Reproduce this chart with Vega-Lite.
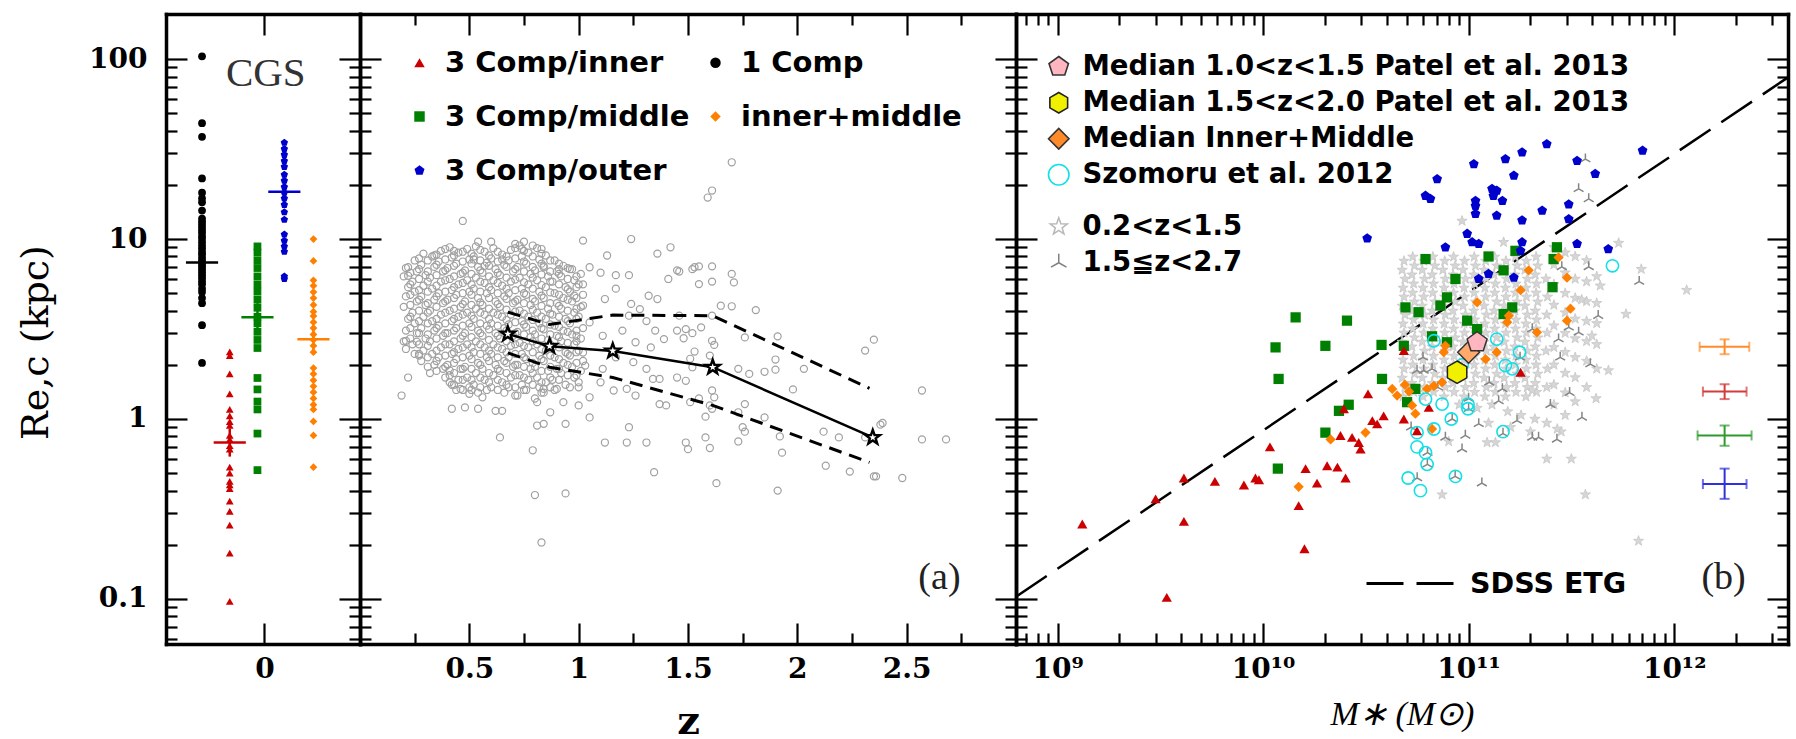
{
"$schema":"https://vega.github.io/schema/vega-lite/v6.json",
"padding":{"left":17,"top":12,"right":5,"bottom":5},
"background":"white",
"spacing":0,
"bounds":"flush",
"config":{"view":{"stroke":null},
"axis":{"domainColor":"black","domainWidth":3.5,"domainCap":"square","tickColor":"black","tickWidth":2.2,"grid":false,"labelFont":"DejaVu Serif","labelFontWeight":"bold","labelFontSize":28,"labelColor":"black","labelOverlap":false,"labelFlush":false,"labelAngle":0,"titleColor":"black","zindex":1}},
"resolve":{"scale":{"x":"independent","y":"independent","color":"independent","shape":"independent","fill":"independent","stroke":"independent","strokeDash":"independent"}},
"datasets":{
"p1":[{"x":-0.225,"r":103.6,"g":"k"},{"x":-0.225,"r":44,"g":"k"},{"x":-0.225,"r":37,"g":"k"},{"x":-0.225,"r":21.7,"g":"k"},{"x":-0.225,"r":18.1,"g":"k"},{"x":-0.225,"r":16.8,"g":"k"},{"x":-0.225,"r":16,"g":"k"},{"x":-0.225,"r":14.4,"g":"k"},{"x":-0.225,"r":13,"g":"k"},{"x":-0.225,"r":12.5,"g":"k"},{"x":-0.225,"r":12.06,"g":"k"},{"x":-0.225,"r":11.6,"g":"k"},{"x":-0.225,"r":11.17,"g":"k"},{"x":-0.225,"r":10.8,"g":"k"},{"x":-0.225,"r":10.35,"g":"k"},{"x":-0.225,"r":10,"g":"k"},{"x":-0.225,"r":9.59,"g":"k"},{"x":-0.225,"r":9.2,"g":"k"},{"x":-0.225,"r":8.88,"g":"k"},{"x":-0.225,"r":8.5,"g":"k"},{"x":-0.225,"r":8.23,"g":"k"},{"x":-0.225,"r":7.9,"g":"k"},{"x":-0.225,"r":7.62,"g":"k"},{"x":-0.225,"r":7.3,"g":"k"},{"x":-0.225,"r":7.06,"g":"k"},{"x":-0.225,"r":6.8,"g":"k"},{"x":-0.225,"r":6.54,"g":"k"},{"x":-0.225,"r":6.3,"g":"k"},{"x":-0.225,"r":6.06,"g":"k"},{"x":-0.225,"r":5.8,"g":"k"},{"x":-0.225,"r":5.61,"g":"k"},{"x":-0.225,"r":5.3,"g":"k"},{"x":-0.225,"r":5.07,"g":"k"},{"x":-0.225,"r":4.7,"g":"k"},{"x":-0.225,"r":4.4,"g":"k"},{"x":-0.225,"r":3.32,"g":"k"},{"x":-0.225,"r":2.05,"g":"k"},
{"x":-0.125,"r":2.36,"g":"i"},{"x":-0.125,"r":2.25,"g":"i"},{"x":-0.125,"r":1.78,"g":"i"},{"x":-0.125,"r":1.38,"g":"i"},{"x":-0.125,"r":1.13,"g":"i"},{"x":-0.125,"r":1.04,"g":"i"},{"x":-0.125,"r":0.966,"g":"i"},{"x":-0.125,"r":0.92,"g":"i"},{"x":-0.125,"r":0.81,"g":"i"},{"x":-0.125,"r":0.77,"g":"i"},{"x":-0.125,"r":0.71,"g":"i"},{"x":-0.125,"r":0.68,"g":"i"},{"x":-0.125,"r":0.54,"g":"i"},{"x":-0.125,"r":0.5,"g":"i"},{"x":-0.125,"r":0.45,"g":"i"},{"x":-0.125,"r":0.43,"g":"i"},{"x":-0.125,"r":0.41,"g":"i"},{"x":-0.125,"r":0.35,"g":"i"},{"x":-0.125,"r":0.307,"g":"i"},{"x":-0.125,"r":0.257,"g":"i"},{"x":-0.125,"r":0.18,"g":"i"},{"x":-0.125,"r":0.097,"g":"i"},
{"x":-0.025,"r":9.1,"g":"m"},{"x":-0.025,"r":8.4,"g":"m"},{"x":-0.025,"r":7.6,"g":"m"},{"x":-0.025,"r":6.9,"g":"m"},{"x":-0.025,"r":6.2,"g":"m"},{"x":-0.025,"r":5.6,"g":"m"},{"x":-0.025,"r":5.1,"g":"m"},{"x":-0.025,"r":4.6,"g":"m"},{"x":-0.025,"r":4.15,"g":"m"},{"x":-0.025,"r":3.7,"g":"m"},{"x":-0.025,"r":3.4,"g":"m"},{"x":-0.025,"r":3.05,"g":"m"},{"x":-0.025,"r":2.75,"g":"m"},{"x":-0.025,"r":2.48,"g":"m"},{"x":-0.025,"r":1.69,"g":"m"},{"x":-0.025,"r":1.46,"g":"m"},{"x":-0.025,"r":1.25,"g":"m"},{"x":-0.025,"r":1.13,"g":"m"},{"x":-0.025,"r":0.83,"g":"m"},{"x":-0.025,"r":0.52,"g":"m"},
{"x":0.072,"r":34.3,"g":"o"},{"x":0.072,"r":31.7,"g":"o"},{"x":0.072,"r":29.4,"g":"o"},{"x":0.072,"r":27.2,"g":"o"},{"x":0.072,"r":25.2,"g":"o"},{"x":0.072,"r":22.8,"g":"o"},{"x":0.072,"r":21.1,"g":"o"},{"x":0.072,"r":19.5,"g":"o"},{"x":0.072,"r":18.1,"g":"o"},{"x":0.072,"r":16.8,"g":"o"},{"x":0.072,"r":15.5,"g":"o"},{"x":0.072,"r":14.1,"g":"o"},{"x":0.072,"r":12.8,"g":"o"},{"x":0.072,"r":10.6,"g":"o"},{"x":0.072,"r":9.8,"g":"o"},{"x":0.072,"r":9.1,"g":"o"},{"x":0.072,"r":8.5,"g":"o"},{"x":0.072,"r":6.2,"g":"o"},{"x":0.072,"r":6.0,"g":"o"},
{"x":0.177,"r":10,"g":"im"},{"x":0.177,"r":7.56,"g":"im"},{"x":0.177,"r":5.9,"g":"im"},{"x":0.177,"r":5.5,"g":"im"},{"x":0.177,"r":5.07,"g":"im"},{"x":0.177,"r":4.7,"g":"im"},{"x":0.177,"r":4.3,"g":"im"},{"x":0.177,"r":3.95,"g":"im"},{"x":0.177,"r":3.73,"g":"im"},{"x":0.177,"r":3.45,"g":"im"},{"x":0.177,"r":3.2,"g":"im"},{"x":0.177,"r":2.95,"g":"im"},{"x":0.177,"r":2.75,"g":"im"},{"x":0.177,"r":2.55,"g":"im"},{"x":0.177,"r":2.35,"g":"im"},{"x":0.177,"r":1.92,"g":"im"},{"x":0.177,"r":1.78,"g":"im"},{"x":0.177,"r":1.64,"g":"im"},{"x":0.177,"r":1.52,"g":"im"},{"x":0.177,"r":1.41,"g":"im"},{"x":0.177,"r":1.3,"g":"im"},{"x":0.177,"r":1.2,"g":"im"},{"x":0.177,"r":1.13,"g":"im"},{"x":0.177,"r":0.97,"g":"im"},{"x":0.177,"r":0.81,"g":"im"},{"x":0.177,"r":0.54,"g":"im"}],
"p1c":[{"g":"k","x":-0.225,"x1":-0.283,"x2":-0.167,"r":7.4,"r1":6.18,"r2":8.86},{"g":"i","x":-0.125,"x1":-0.183,"x2":-0.067,"r":0.74,"r1":0.618,"r2":0.886},{"g":"m","x":-0.025,"x1":-0.083,"x2":0.033,"r":3.68,"r1":3.07,"r2":4.4},{"g":"o","x":0.072,"x1":0.014,"x2":0.13,"r":18.3,"r1":15.3,"r2":21.9},{"g":"im","x":0.177,"x1":0.119,"x2":0.235,"r":2.77,"r1":2.31,"r2":3.32}],
"gz":[{"z":1.70,"r":26.7},{"z":1.61,"r":18.6},{"z":1.59,"r":17.0},{"z":1.46,"r":6.6},{"z":1.52,"r":6.8},{"z":1.55,"r":7.05},{"z":1.61,"r":7.05},{"z":1.55,"r":5.62},{"z":1.61,"r":5.8},{"z":1.70,"r":6.4},{"z":1.71,"r":5.74},{"z":1.65,"r":4.26},{"z":1.70,"r":4.23},{"z":1.81,"r":4.03},{"z":1.61,"r":3.75},{"z":1.46,"r":3.75},{"z":1.49,"r":3.16},{"z":1.52,"r":3.0},{"z":1.56,"r":3.23},{"z":1.48,"r":2.81},{"z":1.61,"r":2.72},{"z":1.62,"r":2.58},{"z":1.76,"r":2.84},{"z":1.91,"r":2.88},{"z":1.53,"r":2.37},{"z":1.60,"r":2.25},{"z":1.51,"r":2.16},{"z":1.90,"r":2.14},{"z":1.73,"r":1.90},{"z":1.78,"r":1.78},{"z":1.85,"r":1.83},{"z":1.90,"r":1.88},{"z":2.03,"r":1.90},{"z":1.98,"r":1.46},{"z":2.31,"r":2.40},{"z":2.35,"r":2.76},{"z":2.57,"r":1.44},{"z":1.49,"r":1.63},{"z":1.55,"r":1.30},{"z":1.61,"r":1.44},{"z":1.62,"r":1.32},{"z":1.60,"r":1.19},{"z":1.61,"r":1.14},{"z":1.58,"r":1.03},{"z":1.76,"r":1.21},{"z":1.73,"r":1.09},{"z":1.75,"r":0.90},{"z":1.76,"r":0.85},{"z":1.73,"r":0.75},{"z":1.85,"r":1.02},{"z":1.92,"r":0.80},{"z":1.93,"r":0.65},{"z":1.49,"r":0.74},{"z":1.50,"r":0.68},{"z":1.58,"r":0.79},{"z":1.60,"r":0.69},{"z":2.12,"r":0.85},{"z":2.19,"r":0.79},{"z":2.31,"r":0.79},{"z":2.38,"r":0.93},{"z":2.39,"r":0.95},{"z":2.57,"r":0.77},{"z":2.68,"r":0.77},{"z":2.13,"r":0.55},{"z":2.24,"r":0.51},{"z":2.35,"r":0.48},{"z":2.36,"r":0.48},{"z":2.48,"r":0.47},{"z":1.63,"r":0.44},{"z":1.91,"r":0.40},
{"z":0.47,"r":12.6},{"z":0.54,"r":9.66},{"z":0.60,"r":9.66},{"z":0.71,"r":9.4},{"z":0.75,"r":9.66},{"z":0.79,"r":9.2},{"z":0.83,"r":8.8},{"z":1.02,"r":9.8},{"z":1.24,"r":10.0},{"z":1.36,"r":8.3},{"z":1.42,"r":9.0},{"z":1.13,"r":8.1},{"z":1.05,"r":6.97},{"z":1.10,"r":6.5},{"z":1.17,"r":6.3},{"z":1.23,"r":6.3},{"z":1.41,"r":6.0},{"z":1.45,"r":6.7},{"z":1.53,"r":6.97},{"z":1.32,"r":4.84},{"z":1.36,"r":4.64},{"z":1.24,"r":4.36},{"z":1.12,"r":4.64},{"z":1.17,"r":5.3},{"z":1.28,"r":4.08},{"z":1.23,"r":3.75},{"z":1.31,"r":3.5},{"z":1.35,"r":3.1},{"z":1.39,"r":2.78},{"z":1.45,"r":3.1},{"z":1.11,"r":2.9},{"z":1.20,"r":3.1},{"z":1.26,"r":2.67},{"z":1.33,"r":2.5},{"z":1.17,"r":2.2},{"z":1.25,"r":2.07},{"z":1.31,"r":1.9},{"z":1.37,"r":1.67},{"z":1.45,"r":1.70},{"z":1.52,"r":1.94},{"z":1.11,"r":1.9},{"z":1.10,"r":1.6},{"z":1.16,"r":1.44},{"z":1.22,"r":1.47},{"z":1.26,"r":1.35},{"z":1.34,"r":1.67},{"z":1.37,"r":1.21},{"z":1.40,"r":1.19},{"z":1.51,"r":1.24},{"z":1.05,"r":1.32},{"z":1.00,"r":1.19},{"z":1.05,"r":1.02},{"z":0.94,"r":0.94},{"z":0.81,"r":0.92},{"z":0.84,"r":0.94},{"z":0.79,"r":0.67},{"z":0.64,"r":0.79},{"z":1.12,"r":0.74},{"z":1.22,"r":0.74},{"z":1.23,"r":0.90},{"z":1.31,"r":0.74},{"z":0.42,"r":1.14},{"z":0.48,"r":1.16},{"z":0.54,"r":1.14},{"z":0.62,"r":1.11},{"z":0.65,"r":1.11},{"z":0.19,"r":1.35},{"z":0.22,"r":1.70},{"z":0.27,"r":2.30},{"z":0.21,"r":2.45},{"z":0.21,"r":2.72},{"z":0.26,"r":2.69},{"z":0.22,"r":6.97},{"z":0.22,"r":6.25},{"z":0.41,"r":1.86},{"z":0.41,"r":1.6},{"z":0.46,"r":1.47},{"z":0.50,"r":1.38},{"z":0.56,"r":1.32},{"z":0.71,"r":1.35},{"z":0.81,"r":1.24},{"z":0.87,"r":1.09},{"z":0.93,"r":1.24},{"z":1.00,"r":1.50},{"z":0.90,"r":1.47},{"z":0.84,"r":1.47},{"z":0.34,"r":8.1},{"z":0.43,"r":8.6},{"z":0.52,"r":7.7},{"z":0.57,"r":7.1},{"z":0.65,"r":7.7},{"z":0.74,"r":8.8},{"z":0.84,"r":6.97},{"z":0.91,"r":6.8},{"z":0.96,"r":6.8},{"z":1.02,"r":5.6},{"z":0.98,"r":4.84},{"z":1.02,"r":4.27},{"z":1.05,"r":3.44},{"z":0.99,"r":2.9},{"z":1.02,"r":2.34},{"z":1.03,"r":1.98},{"z":0.80,"r":0.378},{"z":0.94,"r":0.386},{"z":0.83,"r":0.206},{"z":1.345,"r":0.506},
{"z":0.21,"r":6.9},{"z":0.20,"r":6.2},{"z":0.22,"r":5.4},{"z":0.21,"r":4.8},{"z":0.20,"r":4.2},{"z":0.22,"r":3.6},{"z":0.21,"r":3.1},{"z":0.20,"r":2.7},
{"z":0.25,"r":7.6},{"z":0.26,"r":6.6},{"z":0.24,"r":5.8},{"z":0.25,"r":5.1},{"z":0.26,"r":4.5},{"z":0.24,"r":3.9},{"z":0.25,"r":3.4},{"z":0.26,"r":3.0},{"z":0.24,"r":2.6},{"z":0.25,"r":2.3},
{"z":0.29,"r":8.3},{"z":0.28,"r":7.2},{"z":0.30,"r":6.3},{"z":0.29,"r":5.5},{"z":0.28,"r":4.8},{"z":0.30,"r":4.3},{"z":0.29,"r":3.7},{"z":0.28,"r":3.2},{"z":0.30,"r":2.8},{"z":0.29,"r":2.4},{"z":0.28,"r":2.1},
{"z":0.33,"r":8.0},{"z":0.34,"r":7.0},{"z":0.32,"r":6.1},{"z":0.33,"r":5.3},{"z":0.34,"r":4.6},{"z":0.32,"r":4.0},{"z":0.33,"r":3.5},{"z":0.34,"r":3.1},{"z":0.32,"r":2.7},{"z":0.33,"r":2.3},{"z":0.34,"r":2.0},{"z":0.32,"r":1.8},
{"z":0.37,"r":8.6},{"z":0.36,"r":7.5},{"z":0.38,"r":6.6},{"z":0.37,"r":5.8},{"z":0.36,"r":5.0},{"z":0.38,"r":4.4},{"z":0.37,"r":3.8},{"z":0.36,"r":3.3},{"z":0.38,"r":2.9},{"z":0.37,"r":2.5},{"z":0.36,"r":2.2},{"z":0.38,"r":1.9},
{"z":0.41,"r":9.0},{"z":0.42,"r":7.9},{"z":0.40,"r":6.9},{"z":0.41,"r":6.0},{"z":0.42,"r":5.2},{"z":0.40,"r":4.6},{"z":0.41,"r":4.0},{"z":0.42,"r":3.5},{"z":0.40,"r":3.0},{"z":0.41,"r":2.6},{"z":0.42,"r":2.3},{"z":0.40,"r":2.0},{"z":0.41,"r":1.75},{"z":0.42,"r":1.55},
{"z":0.45,"r":8.4},{"z":0.44,"r":7.3},{"z":0.46,"r":6.4},{"z":0.45,"r":5.6},{"z":0.44,"r":4.9},{"z":0.46,"r":4.2},{"z":0.45,"r":3.7},{"z":0.44,"r":3.2},{"z":0.46,"r":2.8},{"z":0.45,"r":2.45},{"z":0.44,"r":2.15},{"z":0.46,"r":1.9},{"z":0.45,"r":1.65},{"z":0.44,"r":1.45},
{"z":0.49,"r":8.8},{"z":0.50,"r":7.7},{"z":0.48,"r":6.7},{"z":0.49,"r":5.9},{"z":0.50,"r":5.1},{"z":0.48,"r":4.5},{"z":0.49,"r":3.9},{"z":0.50,"r":3.4},{"z":0.48,"r":3.0},{"z":0.49,"r":2.6},{"z":0.50,"r":2.25},{"z":0.48,"r":1.95},{"z":0.49,"r":1.7},{"z":0.50,"r":1.5},
{"z":0.53,"r":9.1},{"z":0.52,"r":8.0},{"z":0.54,"r":7.0},{"z":0.53,"r":6.1},{"z":0.52,"r":5.3},{"z":0.54,"r":4.7},{"z":0.53,"r":4.1},{"z":0.52,"r":3.6},{"z":0.54,"r":3.1},{"z":0.53,"r":2.7},{"z":0.52,"r":2.35},{"z":0.54,"r":2.05},{"z":0.53,"r":1.8},{"z":0.52,"r":1.55},{"z":0.54,"r":1.4},
{"z":0.57,"r":8.5},{"z":0.58,"r":7.4},{"z":0.56,"r":6.5},{"z":0.57,"r":5.7},{"z":0.58,"r":5.0},{"z":0.56,"r":4.3},{"z":0.57,"r":3.8},{"z":0.58,"r":3.3},{"z":0.56,"r":2.9},{"z":0.57,"r":2.5},{"z":0.58,"r":2.2},{"z":0.56,"r":1.9},{"z":0.57,"r":1.65},{"z":0.58,"r":1.45},
{"z":0.61,"r":8.9},{"z":0.60,"r":7.8},{"z":0.62,"r":6.8},{"z":0.61,"r":5.9},{"z":0.60,"r":5.2},{"z":0.62,"r":4.5},{"z":0.61,"r":3.9},{"z":0.60,"r":3.4},{"z":0.62,"r":3.0},{"z":0.61,"r":2.6},{"z":0.60,"r":2.3},{"z":0.62,"r":2.0},{"z":0.61,"r":1.75},{"z":0.60,"r":1.5},
{"z":0.65,"r":8.2},{"z":0.66,"r":7.2},{"z":0.64,"r":6.3},{"z":0.65,"r":5.5},{"z":0.66,"r":4.8},{"z":0.64,"r":4.2},{"z":0.65,"r":3.7},{"z":0.66,"r":3.2},{"z":0.64,"r":2.8},{"z":0.65,"r":2.45},{"z":0.66,"r":2.1},{"z":0.64,"r":1.85},{"z":0.65,"r":1.6},{"z":0.66,"r":1.4},
{"z":0.69,"r":8.7},{"z":0.68,"r":7.6},{"z":0.70,"r":6.6},{"z":0.69,"r":5.8},{"z":0.68,"r":5.0},{"z":0.70,"r":4.4},{"z":0.69,"r":3.8},{"z":0.68,"r":3.35},{"z":0.70,"r":2.9},{"z":0.69,"r":2.55},{"z":0.68,"r":2.2},{"z":0.70,"r":1.95},{"z":0.69,"r":1.7},{"z":0.68,"r":1.5},
{"z":0.73,"r":9.2},{"z":0.74,"r":8.0},{"z":0.72,"r":7.0},{"z":0.73,"r":6.1},{"z":0.74,"r":5.3},{"z":0.72,"r":4.6},{"z":0.73,"r":4.0},{"z":0.74,"r":3.5},{"z":0.72,"r":3.05},{"z":0.73,"r":2.65},{"z":0.74,"r":2.3},{"z":0.72,"r":2.0},{"z":0.73,"r":1.75},{"z":0.74,"r":1.55},{"z":0.72,"r":1.35},
{"z":0.77,"r":8.4},{"z":0.76,"r":7.3},{"z":0.78,"r":6.4},{"z":0.77,"r":5.6},{"z":0.76,"r":4.9},{"z":0.78,"r":4.3},{"z":0.77,"r":3.7},{"z":0.76,"r":3.25},{"z":0.78,"r":2.85},{"z":0.77,"r":2.5},{"z":0.76,"r":2.15},{"z":0.78,"r":1.9},{"z":0.77,"r":1.65},{"z":0.76,"r":1.45},
{"z":0.81,"r":8.9},{"z":0.82,"r":7.7},{"z":0.80,"r":6.7},{"z":0.81,"r":5.9},{"z":0.82,"r":5.1},{"z":0.80,"r":4.5},{"z":0.81,"r":3.9},{"z":0.82,"r":3.4},{"z":0.80,"r":2.95},{"z":0.81,"r":2.6},{"z":0.82,"r":2.25},{"z":0.80,"r":1.95},{"z":0.81,"r":1.7},{"z":0.82,"r":1.5},{"z":0.80,"r":1.3},
{"z":0.85,"r":8.1},{"z":0.84,"r":7.1},{"z":0.86,"r":6.2},{"z":0.85,"r":5.4},{"z":0.84,"r":4.7},{"z":0.86,"r":4.1},{"z":0.85,"r":3.6},{"z":0.84,"r":3.15},{"z":0.86,"r":2.75},{"z":0.85,"r":2.4},{"z":0.84,"r":2.1},{"z":0.86,"r":1.85},{"z":0.85,"r":1.6},{"z":0.84,"r":1.4},
{"z":0.89,"r":7.6},{"z":0.90,"r":6.6},{"z":0.88,"r":5.8},{"z":0.89,"r":5.0},{"z":0.90,"r":4.4},{"z":0.88,"r":3.8},{"z":0.89,"r":3.3},{"z":0.90,"r":2.9},{"z":0.88,"r":2.5},{"z":0.89,"r":2.2},{"z":0.90,"r":1.9},{"z":0.88,"r":1.65},{"z":0.89,"r":1.45},
{"z":0.93,"r":7.1},{"z":0.92,"r":6.2},{"z":0.94,"r":5.4},{"z":0.93,"r":4.7},{"z":0.92,"r":4.1},{"z":0.94,"r":3.6},{"z":0.93,"r":3.1},{"z":0.92,"r":2.7},{"z":0.94,"r":2.35},{"z":0.93,"r":2.05},{"z":0.92,"r":1.8},{"z":0.94,"r":1.55},
{"z":0.97,"r":6.8},{"z":0.98,"r":5.9},{"z":0.96,"r":5.1},{"z":0.97,"r":4.5},{"z":0.98,"r":3.9},{"z":0.96,"r":3.4},{"z":0.97,"r":2.95},{"z":0.98,"r":2.6},{"z":0.96,"r":2.25},{"z":0.97,"r":1.95},{"z":0.98,"r":1.7},{"z":0.96,"r":1.5},
{"z":1.01,"r":6.4},{"z":1.00,"r":5.6},{"z":1.02,"r":4.9},{"z":1.01,"r":4.2},{"z":1.00,"r":3.7},{"z":1.02,"r":3.2},{"z":1.01,"r":2.8},{"z":1.00,"r":2.4},{"z":1.02,"r":2.1},{"z":1.01,"r":1.85},{"z":1.00,"r":1.6},
{"z":0.23,"r":6.5},{"z":0.23,"r":5.6},{"z":0.23,"r":4.9},{"z":0.23,"r":4.3},{"z":0.23,"r":3.7},{"z":0.23,"r":3.2},{"z":0.23,"r":2.8},
{"z":0.27,"r":7.8},{"z":0.27,"r":6.8},{"z":0.27,"r":6.0},{"z":0.27,"r":5.2},{"z":0.27,"r":4.6},{"z":0.27,"r":4.0},{"z":0.27,"r":3.5},{"z":0.27,"r":3.0},{"z":0.27,"r":2.6},{"z":0.27,"r":2.25},
{"z":0.31,"r":7.6},{"z":0.31,"r":6.6},{"z":0.31,"r":5.8},{"z":0.31,"r":5.1},{"z":0.31,"r":4.4},{"z":0.31,"r":3.9},{"z":0.31,"r":3.4},{"z":0.31,"r":2.95},{"z":0.31,"r":2.55},{"z":0.31,"r":2.2},{"z":0.31,"r":1.95},
{"z":0.35,"r":8.2},{"z":0.35,"r":7.2},{"z":0.35,"r":6.3},{"z":0.35,"r":5.5},{"z":0.35,"r":4.8},{"z":0.35,"r":4.2},{"z":0.35,"r":3.6},{"z":0.35,"r":3.2},{"z":0.35,"r":2.8},{"z":0.35,"r":2.4},{"z":0.35,"r":2.1},{"z":0.35,"r":1.85},
{"z":0.39,"r":8.8},{"z":0.39,"r":7.7},{"z":0.39,"r":6.7},{"z":0.39,"r":5.9},{"z":0.39,"r":5.1},{"z":0.39,"r":4.5},{"z":0.39,"r":3.9},{"z":0.39,"r":3.4},{"z":0.39,"r":3.0},{"z":0.39,"r":2.6},{"z":0.39,"r":2.25},{"z":0.39,"r":1.95},{"z":0.39,"r":1.7},
{"z":0.43,"r":8.1},{"z":0.43,"r":7.1},{"z":0.43,"r":6.2},{"z":0.43,"r":5.4},{"z":0.43,"r":4.7},{"z":0.43,"r":4.1},{"z":0.43,"r":3.6},{"z":0.43,"r":3.1},{"z":0.43,"r":2.7},{"z":0.43,"r":2.35},{"z":0.43,"r":2.05},{"z":0.43,"r":1.8},{"z":0.43,"r":1.55},
{"z":0.47,"r":8.5},{"z":0.47,"r":7.5},{"z":0.47,"r":6.5},{"z":0.47,"r":5.7},{"z":0.47,"r":5.0},{"z":0.47,"r":4.35},{"z":0.47,"r":3.8},{"z":0.47,"r":3.3},{"z":0.47,"r":2.9},{"z":0.47,"r":2.5},{"z":0.47,"r":2.2},{"z":0.47,"r":1.9},{"z":0.47,"r":1.65},{"z":0.47,"r":1.45},
{"z":0.51,"r":8.3},{"z":0.51,"r":7.3},{"z":0.51,"r":6.4},{"z":0.51,"r":5.6},{"z":0.51,"r":4.9},{"z":0.51,"r":4.3},{"z":0.51,"r":3.75},{"z":0.51,"r":3.25},{"z":0.51,"r":2.85},{"z":0.51,"r":2.5},{"z":0.51,"r":2.15},{"z":0.51,"r":1.9},{"z":0.51,"r":1.65},{"z":0.51,"r":1.45},
{"z":0.55,"r":8.7},{"z":0.55,"r":7.6},{"z":0.55,"r":6.7},{"z":0.55,"r":5.8},{"z":0.55,"r":5.1},{"z":0.55,"r":4.45},{"z":0.55,"r":3.9},{"z":0.55,"r":3.4},{"z":0.55,"r":3.0},{"z":0.55,"r":2.6},{"z":0.55,"r":2.3},{"z":0.55,"r":2.0},{"z":0.55,"r":1.7},{"z":0.55,"r":1.5},
{"z":0.59,"r":8.1},{"z":0.59,"r":7.1},{"z":0.59,"r":6.2},{"z":0.59,"r":5.4},{"z":0.59,"r":4.7},{"z":0.59,"r":4.1},{"z":0.59,"r":3.6},{"z":0.59,"r":3.15},{"z":0.59,"r":2.75},{"z":0.59,"r":2.4},{"z":0.59,"r":2.1},{"z":0.59,"r":1.8},{"z":0.59,"r":1.6},
{"z":0.63,"r":8.5},{"z":0.63,"r":7.5},{"z":0.63,"r":6.5},{"z":0.63,"r":5.7},{"z":0.63,"r":5.0},{"z":0.63,"r":4.35},{"z":0.63,"r":3.8},{"z":0.63,"r":3.3},{"z":0.63,"r":2.9},{"z":0.63,"r":2.5},{"z":0.63,"r":2.2},{"z":0.63,"r":1.9},{"z":0.63,"r":1.65},{"z":0.63,"r":1.45},
{"z":0.67,"r":8.0},{"z":0.67,"r":7.0},{"z":0.67,"r":6.1},{"z":0.67,"r":5.3},{"z":0.67,"r":4.65},{"z":0.67,"r":4.05},{"z":0.67,"r":3.55},{"z":0.67,"r":3.1},{"z":0.67,"r":2.7},{"z":0.67,"r":2.35},{"z":0.67,"r":2.05},{"z":0.67,"r":1.8},{"z":0.67,"r":1.55},
{"z":0.71,"r":8.9},{"z":0.71,"r":7.8},{"z":0.71,"r":6.8},{"z":0.71,"r":5.95},{"z":0.71,"r":5.2},{"z":0.71,"r":4.5},{"z":0.71,"r":3.95},{"z":0.71,"r":3.45},{"z":0.71,"r":3.0},{"z":0.71,"r":2.6},{"z":0.71,"r":2.3},{"z":0.71,"r":2.0},{"z":0.71,"r":1.75},{"z":0.71,"r":1.5},
{"z":0.75,"r":8.6},{"z":0.75,"r":7.5},{"z":0.75,"r":6.6},{"z":0.75,"r":5.75},{"z":0.75,"r":5.0},{"z":0.75,"r":4.4},{"z":0.75,"r":3.85},{"z":0.75,"r":3.35},{"z":0.75,"r":2.95},{"z":0.75,"r":2.55},{"z":0.75,"r":2.2},{"z":0.75,"r":1.95},{"z":0.75,"r":1.7},{"z":0.75,"r":1.45},
{"z":0.79,"r":8.0},{"z":0.79,"r":7.0},{"z":0.79,"r":6.1},{"z":0.79,"r":5.3},{"z":0.79,"r":4.65},{"z":0.79,"r":4.05},{"z":0.79,"r":3.55},{"z":0.79,"r":3.1},{"z":0.79,"r":2.7},{"z":0.79,"r":2.35},{"z":0.79,"r":2.05},{"z":0.79,"r":1.8},{"z":0.79,"r":1.55},
{"z":0.83,"r":8.3},{"z":0.83,"r":7.3},{"z":0.83,"r":6.35},{"z":0.83,"r":5.55},{"z":0.83,"r":4.85},{"z":0.83,"r":4.25},{"z":0.83,"r":3.7},{"z":0.83,"r":3.2},{"z":0.83,"r":2.8},{"z":0.83,"r":2.45},{"z":0.83,"r":2.15},{"z":0.83,"r":1.85},{"z":0.83,"r":1.6},{"z":0.83,"r":1.4},
{"z":0.87,"r":7.6},{"z":0.87,"r":6.6},{"z":0.87,"r":5.8},{"z":0.87,"r":5.05},{"z":0.87,"r":4.4},{"z":0.87,"r":3.85},{"z":0.87,"r":3.35},{"z":0.87,"r":2.95},{"z":0.87,"r":2.6},{"z":0.87,"r":2.25},{"z":0.87,"r":1.95},{"z":0.87,"r":1.7},{"z":0.87,"r":1.5},
{"z":0.91,"r":7.3},{"z":0.91,"r":6.4},{"z":0.91,"r":5.6},{"z":0.91,"r":4.9},{"z":0.91,"r":4.25},{"z":0.91,"r":3.7},{"z":0.91,"r":3.25},{"z":0.91,"r":2.85},{"z":0.91,"r":2.5},{"z":0.91,"r":2.15},{"z":0.91,"r":1.9},{"z":0.91,"r":1.65},
{"z":0.95,"r":6.9},{"z":0.95,"r":6.0},{"z":0.95,"r":5.25},{"z":0.95,"r":4.6},{"z":0.95,"r":4.0},{"z":0.95,"r":3.5},{"z":0.95,"r":3.05},{"z":0.95,"r":2.65},{"z":0.95,"r":2.3},{"z":0.95,"r":2.0},{"z":0.95,"r":1.75},
{"z":0.99,"r":6.2},{"z":0.99,"r":5.4},{"z":0.99,"r":4.7},{"z":0.99,"r":4.1},{"z":0.99,"r":3.6},{"z":0.99,"r":3.1},{"z":0.99,"r":2.7},{"z":0.99,"r":2.35},{"z":0.99,"r":2.05},{"z":0.99,"r":1.75}],
"md":[{"z":0.676,"r":2.97},{"z":0.867,"r":2.54},{"z":1.156,"r":2.39},{"z":1.613,"r":1.94},{"z":2.345,"r":0.79}],
"dl":[{"z":0.676,"r":3.92,"s":"u"},{"z":0.867,"r":3.35,"s":"u"},{"z":1.156,"r":3.78,"s":"u"},{"z":1.613,"r":3.75,"s":"u"},{"z":2.33,"r":1.48,"s":"u"},{"z":0.676,"r":2.33,"s":"l"},{"z":0.867,"r":1.94,"s":"l"},{"z":1.156,"r":1.7,"s":"l"},{"z":1.613,"r":1.19,"s":"l"},{"z":2.33,"r":0.574,"s":"l"}],
"st":[{"m":4.8e10,"r":1.33},{"m":4.9e10,"r":1.5},{"m":4.75e10,"r":1.69},{"m":4.85e10,"r":1.9},{"m":4.8e10,"r":2.13},{"m":4.9e10,"r":2.39},{"m":4.75e10,"r":2.68},{"m":4.85e10,"r":3.01},{"m":4.8e10,"r":3.38},{"m":4.9e10,"r":3.79},{"m":4.75e10,"r":4.25},{"m":4.85e10,"r":4.77},{"m":4.8e10,"r":5.35},{"m":4.9e10,"r":6.0},{"m":4.75e10,"r":6.73},{"m":4.85e10,"r":7.55},
{"m":5.4e10,"r":1.41},{"m":5.3e10,"r":1.58},{"m":5.45e10,"r":1.78},{"m":5.35e10,"r":2.0},{"m":5.4e10,"r":2.24},{"m":5.3e10,"r":2.52},{"m":5.45e10,"r":2.83},{"m":5.35e10,"r":3.17},{"m":5.4e10,"r":3.56},{"m":5.3e10,"r":3.99},{"m":5.45e10,"r":4.48},{"m":5.35e10,"r":5.02},{"m":5.4e10,"r":5.64},{"m":5.3e10,"r":6.33},{"m":5.45e10,"r":7.1},{"m":5.35e10,"r":7.96},
{"m":6.0e10,"r":1.33},{"m":6.1e10,"r":1.5},{"m":5.95e10,"r":1.69},{"m":6.05e10,"r":1.9},{"m":6.0e10,"r":2.13},{"m":6.1e10,"r":2.39},{"m":5.95e10,"r":2.68},{"m":6.05e10,"r":3.01},{"m":6.0e10,"r":3.38},{"m":6.1e10,"r":3.79},{"m":5.95e10,"r":4.25},{"m":6.05e10,"r":4.77},{"m":6.0e10,"r":5.35},{"m":6.1e10,"r":6.0},{"m":5.95e10,"r":6.73},{"m":6.05e10,"r":7.55},
{"m":6.75e10,"r":1.41},{"m":6.65e10,"r":1.58},{"m":6.85e10,"r":1.78},{"m":6.7e10,"r":2.0},{"m":6.75e10,"r":2.24},{"m":6.65e10,"r":2.52},{"m":6.85e10,"r":2.83},{"m":6.7e10,"r":3.17},{"m":6.75e10,"r":3.56},{"m":6.65e10,"r":3.99},{"m":6.85e10,"r":4.48},{"m":6.7e10,"r":5.02},{"m":6.75e10,"r":5.64},{"m":6.65e10,"r":6.33},{"m":6.85e10,"r":7.1},{"m":6.7e10,"r":7.96},
{"m":7.6e10,"r":1.33},{"m":7.7e10,"r":1.5},{"m":7.5e10,"r":1.69},{"m":7.65e10,"r":1.9},{"m":7.6e10,"r":2.13},{"m":7.7e10,"r":2.39},{"m":7.5e10,"r":2.68},{"m":7.65e10,"r":3.01},{"m":7.6e10,"r":3.38},{"m":7.7e10,"r":3.79},{"m":7.5e10,"r":4.25},{"m":7.65e10,"r":4.77},{"m":7.6e10,"r":5.35},{"m":7.7e10,"r":6.0},{"m":7.5e10,"r":6.73},{"m":7.65e10,"r":7.55},
{"m":8.5e10,"r":1.41},{"m":8.4e10,"r":1.58},{"m":8.6e10,"r":1.78},{"m":8.45e10,"r":2.0},{"m":8.5e10,"r":2.24},{"m":8.4e10,"r":2.52},{"m":8.6e10,"r":2.83},{"m":8.45e10,"r":3.17},{"m":8.5e10,"r":3.56},{"m":8.4e10,"r":3.99},{"m":8.6e10,"r":4.48},{"m":8.45e10,"r":5.02},{"m":8.5e10,"r":5.64},{"m":8.4e10,"r":6.33},{"m":8.6e10,"r":7.1},{"m":8.45e10,"r":7.96},
{"m":9.5e10,"r":1.33},{"m":9.65e10,"r":1.5},{"m":9.4e10,"r":1.69},{"m":9.55e10,"r":1.9},{"m":9.5e10,"r":2.13},{"m":9.65e10,"r":2.39},{"m":9.4e10,"r":2.68},{"m":9.55e10,"r":3.01},{"m":9.5e10,"r":3.38},{"m":9.65e10,"r":3.79},{"m":9.4e10,"r":4.25},{"m":9.55e10,"r":4.77},{"m":9.5e10,"r":5.35},{"m":9.65e10,"r":6.0},{"m":9.4e10,"r":6.73},{"m":9.55e10,"r":7.55},
{"m":1.07e11,"r":1.41},{"m":1.06e11,"r":1.58},{"m":1.08e11,"r":1.78},{"m":1.065e11,"r":2.0},{"m":1.07e11,"r":2.24},{"m":1.06e11,"r":2.52},{"m":1.08e11,"r":2.83},{"m":1.065e11,"r":3.17},{"m":1.07e11,"r":3.56},{"m":1.06e11,"r":3.99},{"m":1.08e11,"r":4.48},{"m":1.065e11,"r":5.02},{"m":1.07e11,"r":5.64},{"m":1.06e11,"r":6.33},{"m":1.08e11,"r":7.1},{"m":1.065e11,"r":7.96},
{"m":1.2e11,"r":1.33},{"m":1.22e11,"r":1.5},{"m":1.19e11,"r":1.69},{"m":1.21e11,"r":1.9},{"m":1.2e11,"r":2.13},{"m":1.22e11,"r":2.39},{"m":1.19e11,"r":2.68},{"m":1.21e11,"r":3.01},{"m":1.2e11,"r":3.38},{"m":1.22e11,"r":3.79},{"m":1.19e11,"r":4.25},{"m":1.21e11,"r":4.77},{"m":1.2e11,"r":5.35},{"m":1.22e11,"r":6.0},{"m":1.19e11,"r":6.73},{"m":1.21e11,"r":7.55},
{"m":1.35e11,"r":1.41},{"m":1.33e11,"r":1.58},{"m":1.37e11,"r":1.78},{"m":1.34e11,"r":2.0},{"m":1.35e11,"r":2.24},{"m":1.33e11,"r":2.52},{"m":1.37e11,"r":2.83},{"m":1.34e11,"r":3.17},{"m":1.35e11,"r":3.56},{"m":1.33e11,"r":3.99},{"m":1.37e11,"r":4.48},{"m":1.34e11,"r":5.02},{"m":1.35e11,"r":5.64},{"m":1.33e11,"r":6.33},{"m":1.37e11,"r":7.1},{"m":1.34e11,"r":7.96},
{"m":1.51e11,"r":1.33},{"m":1.53e11,"r":1.5},{"m":1.49e11,"r":1.69},{"m":1.52e11,"r":1.9},{"m":1.51e11,"r":2.13},{"m":1.53e11,"r":2.39},{"m":1.49e11,"r":2.68},{"m":1.52e11,"r":3.01},{"m":1.51e11,"r":3.38},{"m":1.53e11,"r":3.79},{"m":1.49e11,"r":4.25},{"m":1.52e11,"r":4.77},{"m":1.51e11,"r":5.35},{"m":1.53e11,"r":6.0},{"m":1.49e11,"r":6.73},{"m":1.52e11,"r":7.55},
{"m":1.7e11,"r":1.41},{"m":1.68e11,"r":1.58},{"m":1.72e11,"r":1.78},{"m":1.69e11,"r":2.0},{"m":1.7e11,"r":2.24},{"m":1.68e11,"r":2.52},{"m":1.72e11,"r":2.83},{"m":1.69e11,"r":3.17},{"m":1.7e11,"r":3.56},{"m":1.68e11,"r":3.99},{"m":1.72e11,"r":4.48},{"m":1.69e11,"r":5.02},{"m":1.7e11,"r":5.64},{"m":1.68e11,"r":6.33},{"m":1.72e11,"r":7.1},{"m":1.69e11,"r":7.96},
{"m":1.9e11,"r":1.33},{"m":1.93e11,"r":1.5},{"m":1.88e11,"r":1.69},{"m":1.91e11,"r":1.9},{"m":1.9e11,"r":2.13},{"m":1.93e11,"r":2.39},{"m":1.88e11,"r":2.68},{"m":1.91e11,"r":3.01},{"m":1.9e11,"r":3.38},{"m":1.93e11,"r":3.79},{"m":1.88e11,"r":4.25},{"m":1.91e11,"r":4.77},{"m":1.9e11,"r":5.35},{"m":1.93e11,"r":6.0},{"m":1.88e11,"r":6.73},{"m":1.91e11,"r":7.55},
{"m":2.14e11,"r":1.41},{"m":2.11e11,"r":1.58},{"m":2.17e11,"r":1.78},{"m":2.13e11,"r":2.0},{"m":2.14e11,"r":2.24},{"m":2.11e11,"r":2.52},{"m":2.17e11,"r":2.83},{"m":2.13e11,"r":3.17},{"m":2.14e11,"r":3.56},{"m":2.11e11,"r":3.99},{"m":2.17e11,"r":4.48},{"m":2.13e11,"r":5.02},{"m":2.14e11,"r":5.64},{"m":2.11e11,"r":6.33},{"m":2.17e11,"r":7.1},{"m":2.13e11,"r":7.96},
{"m":2.4e11,"r":1.5},{"m":2.42e11,"r":1.9},{"m":2.38e11,"r":2.39},{"m":2.41e11,"r":3.01},{"m":2.4e11,"r":3.79},{"m":2.42e11,"r":4.77},{"m":2.38e11,"r":6.0},
{"m":2.6e11,"r":1.2},{"m":2.6e11,"r":1.55},{"m":2.6e11,"r":2.0},{"m":2.6e11,"r":2.5},{"m":2.6e11,"r":3.3},{"m":2.6e11,"r":4.3},{"m":2.6e11,"r":5.6},{"m":2.6e11,"r":7.2},{"m":2.6e11,"r":9.0},
{"m":2.95e11,"r":1.05},{"m":2.95e11,"r":1.4},{"m":2.95e11,"r":1.8},{"m":2.95e11,"r":2.35},{"m":2.95e11,"r":3.0},{"m":2.95e11,"r":3.9},{"m":2.95e11,"r":5.0},{"m":2.95e11,"r":6.5},{"m":2.95e11,"r":8.4},
{"m":3.3e11,"r":1.25},{"m":3.3e11,"r":1.7},{"m":3.3e11,"r":2.2},{"m":3.3e11,"r":2.8},{"m":3.3e11,"r":3.6},{"m":3.3e11,"r":4.7},{"m":3.3e11,"r":6.0},{"m":3.3e11,"r":8.0},
{"m":3.75e11,"r":1.5},{"m":3.75e11,"r":2.1},{"m":3.75e11,"r":2.7},{"m":3.75e11,"r":3.5},{"m":3.75e11,"r":4.5},{"m":3.75e11,"r":5.8},{"m":3.75e11,"r":7.6},
{"m":4.2e11,"r":1.9},{"m":4.2e11,"r":2.6},{"m":4.2e11,"r":3.4},{"m":4.2e11,"r":4.4},{"m":4.2e11,"r":6.2},
{"m":9.29e10,"r":12.6},{"m":2.04e11,"r":1.44},{"m":3.7e11,"r":0.38},{"m":7.43e10,"r":0.38},{"m":1.23e11,"r":0.74},{"m":1.35e11,"r":0.74},{"m":1.48e11,"r":9.6},{"m":6.71e11,"r":0.21},{"m":5.83e11,"r":3.83},{"m":3.98e11,"r":2.9},{"m":4.79e11,"r":1.86},{"m":1.15e12,"r":5.2},{"m":5.37e11,"r":9.5},{"m":6.92e11,"r":6.8},{"m":2.82e11,"r":0.85},{"m":3.16e11,"r":0.6},{"m":2.4e11,"r":0.6},{"m":4.17e11,"r":1.3},{"m":3.55e11,"r":4.6},{"m":4.37e11,"r":5.5},{"m":9e10,"r":1.2},{"m":1.1e11,"r":1.15},{"m":1.3e11,"r":1.2},{"m":1.55e11,"r":1.1},{"m":1.8e11,"r":1.05},{"m":2.1e11,"r":1.0},{"m":1.25e11,"r":0.95},{"m":1.6e11,"r":0.9},{"m":2.0e11,"r":0.85},{"m":2.4e11,"r":0.95},{"m":2.7e11,"r":0.88},{"m":8e10,"r":0.75}],
"tp":[{"m":5.61e10,"r":1.86},{"m":6.05e10,"r":1.86},{"m":6.64e10,"r":1.9},{"m":1.46e11,"r":1.47},{"m":1.4e11,"r":1.26},{"m":1.12e11,"r":0.94},{"m":1.72e11,"r":0.98},{"m":2.04e11,"r":0.79},{"m":2.19e11,"r":0.79},{"m":2.69e11,"r":0.77},{"m":3.56e11,"r":1.02},{"m":1.16e11,"r":0.44},{"m":7.71e10,"r":0.79},{"m":9.29e10,"r":0.68},{"m":9.64e10,"r":0.81},{"m":3.91e11,"r":2.02},{"m":3.43e11,"r":3.03},{"m":2.79e11,"r":2.2},{"m":3.07e11,"r":3.23},{"m":2.04e11,"r":3.16},{"m":3.84e11,"r":7.0},{"m":2.84e11,"r":7.0},{"m":3.7e11,"r":27.8},{"m":3.43e11,"r":19.0},{"m":3.84e11,"r":16.7},{"m":2.74e11,"r":2.78},{"m":1.47e11,"r":0.83},{"m":6.76e11,"r":5.8},{"m":4.27e11,"r":3.75},{"m":1.0e11,"r":1.3},{"m":7.08e10,"r":1.5},{"m":8.51e10,"r":1.7},{"m":1.26e11,"r":1.6},{"m":1.78e11,"r":2.2},{"m":5.25e10,"r":0.9},{"m":6.31e10,"r":0.65},{"m":8.32e10,"r":1.0},{"m":5.62e10,"r":0.47},{"m":1.0e11,"r":1.14},{"m":3.1e11,"r":1.4},{"m":2.5e11,"r":1.2},{"m":6.0e10,"r":2.2},{"m":6.3e10,"r":0.56},{"m":8.6e10,"r":0.48}],
"cp":[{"m":2.69e11,"r":9.0,"c":"m"},{"m":1.69e11,"r":8.6,"c":"m"},{"m":2.59e11,"r":7.74,"c":"m"},{"m":1.25e11,"r":8.0,"c":"m"},{"m":6.17e10,"r":7.74,"c":"m"},{"m":1.48e11,"r":6.7,"c":"m"},{"m":8.63e10,"r":6.0,"c":"m"},{"m":2.56e11,"r":5.4,"c":"m"},{"m":7.85e10,"r":4.74,"c":"m"},{"m":7.29e10,"r":4.27,"c":"m"},{"m":4.93e10,"r":4.17,"c":"m"},{"m":5.71e10,"r":3.92,"c":"m"},{"m":1.63e11,"r":4.17,"c":"m"},{"m":1.48e11,"r":3.83,"c":"m"},{"m":9.84e10,"r":3.52,"c":"m"},{"m":1.1e11,"r":3.16,"c":"m"},{"m":1.44e10,"r":3.67,"c":"m"},{"m":2.56e10,"r":3.52,"c":"m"},{"m":1.15e10,"r":2.5,"c":"m"},{"m":2.01e10,"r":2.55,"c":"m"},{"m":3.77e10,"r":2.58,"c":"m"},{"m":4.84e10,"r":2.55,"c":"m"},{"m":6.64e10,"r":2.88,"c":"m"},{"m":7.85e10,"r":2.67,"c":"m"},{"m":1.19e10,"r":1.67,"c":"m"},{"m":3.79e10,"r":1.67,"c":"m"},{"m":5.51e10,"r":1.47,"c":"m"},{"m":5.02e10,"r":1.24,"c":"m"},{"m":2.61e10,"r":1.2,"c":"m"},{"m":2.34e10,"r":1.11,"c":"m"},{"m":2.01e10,"r":0.84,"c":"m"},{"m":1.18e10,"r":0.53,"c":"m"},
{"m":4.84e10,"r":2.4,"c":"i"},{"m":1.79e11,"r":1.82,"c":"i"},{"m":3.24e10,"r":1.38,"c":"i"},{"m":2.47e10,"r":1.14,"c":"i"},{"m":3.86e10,"r":1.04,"c":"i"},{"m":3.4e10,"r":0.98,"c":"i"},{"m":3.59e10,"r":0.94,"c":"i"},{"m":4.84e10,"r":1.0,"c":"i"},{"m":6.4e10,"r":1.16,"c":"i"},{"m":5.61e10,"r":0.86,"c":"i"},{"m":2.38e10,"r":0.81,"c":"i"},{"m":2.71e10,"r":0.79,"c":"i"},{"m":2.92e10,"r":0.74,"c":"i"},{"m":2.98e10,"r":0.68,"c":"i"},{"m":1.08e10,"r":0.7,"c":"i"},{"m":1.61e10,"r":0.53,"c":"i"},{"m":2.05e10,"r":0.55,"c":"i"},{"m":2.3e10,"r":0.54,"c":"i"},{"m":2.52e10,"r":0.47,"c":"i"},{"m":1.83e10,"r":0.44,"c":"i"},{"m":9.18e9,"r":0.47,"c":"i"},{"m":9.55e9,"r":0.46,"c":"i"},{"m":8.07e9,"r":0.43,"c":"i"},{"m":5.83e9,"r":0.45,"c":"i"},{"m":4.12e9,"r":0.47,"c":"i"},{"m":3.0e9,"r":0.36,"c":"i"},{"m":4.12e9,"r":0.27,"c":"i"},{"m":1.49e10,"r":0.33,"c":"i"},{"m":1.59e10,"r":0.19,"c":"i"},{"m":3.4e9,"r":0.102,"c":"i"},{"m":1.32e9,"r":0.261,"c":"i"},
{"m":2.4e11,"r":33.7,"c":"o"},{"m":1.82e11,"r":30.3,"c":"o"},{"m":1.51e11,"r":27.8,"c":"o"},{"m":1.06e11,"r":26.1,"c":"o"},{"m":3.37e11,"r":27.2,"c":"o"},{"m":4.13e11,"r":23.0,"c":"o"},{"m":1.66e11,"r":22.5,"c":"o"},{"m":7.03e10,"r":21.5,"c":"o"},{"m":6.17e10,"r":17.4,"c":"o"},{"m":6.52e10,"r":16.7,"c":"o"},{"m":1.3e11,"r":19.0,"c":"o"},{"m":1.37e11,"r":18.6,"c":"o"},{"m":1.32e11,"r":17.4,"c":"o"},{"m":1.46e11,"r":16.3,"c":"o"},{"m":1.08e11,"r":16.3,"c":"o"},{"m":1.08e11,"r":15.3,"c":"o"},{"m":1.08e11,"r":13.8,"c":"o"},{"m":1.37e11,"r":13.5,"c":"o"},{"m":1.82e11,"r":12.7,"c":"o"},{"m":2.28e11,"r":14.4,"c":"o"},{"m":3.07e11,"r":15.6,"c":"o"},{"m":3.07e11,"r":12.9,"c":"o"},{"m":9.84e10,"r":10.7,"c":"o"},{"m":1.04e11,"r":9.6,"c":"o"},{"m":1.12e11,"r":9.4,"c":"o"},{"m":7.71e10,"r":9.0,"c":"o"},{"m":3.21e10,"r":10.1,"c":"o"},{"m":1.82e11,"r":9.6,"c":"o"},{"m":1.79e11,"r":8.6,"c":"o"},{"m":3.37e11,"r":9.4,"c":"o"},{"m":1.25e11,"r":6.4,"c":"o"},{"m":1.12e11,"r":6.0,"c":"o"},{"m":1.66e11,"r":6.1,"c":"o"},{"m":4.78e11,"r":8.8,"c":"o"},{"m":7.02e11,"r":31.0,"c":"o"},
{"m":2.74e11,"r":7.9,"c":"im"},{"m":1.96e11,"r":6.7,"c":"im"},{"m":3.01e11,"r":6.1,"c":"im"},{"m":1.79e11,"r":5.2,"c":"im"},{"m":1.1e11,"r":4.45,"c":"im"},{"m":3.13e11,"r":4.1,"c":"im"},{"m":1.57e11,"r":3.75,"c":"im"},{"m":3.01e11,"r":3.52,"c":"im"},{"m":1.54e11,"r":3.45,"c":"im"},{"m":2.15e11,"r":3.03,"c":"im"},{"m":7.71e10,"r":2.55,"c":"im"},{"m":1.21e11,"r":2.15,"c":"im"},{"m":1.37e11,"r":2.35,"c":"im"},{"m":7.57e10,"r":2.35,"c":"im"},{"m":7.43e10,"r":1.6,"c":"im"},{"m":6.78e10,"r":1.53,"c":"im"},{"m":6.28e10,"r":1.47,"c":"im"},{"m":4.25e10,"r":1.47,"c":"im"},{"m":4.49e10,"r":1.35,"c":"im"},{"m":5.31e10,"r":1.19,"c":"im"},{"m":5.51e10,"r":1.07,"c":"im"},{"m":6.64e10,"r":0.88,"c":"im"},{"m":2.13e10,"r":0.77,"c":"im"},{"m":3.15e10,"r":0.84,"c":"im"},{"m":1.49e10,"r":0.42,"c":"im"},{"m":8.91e10,"r":2.0,"c":"im"},{"m":4.9e10,"r":1.55,"c":"im"},{"m":5.13e10,"r":1.42,"c":"im"}],
"cy":[{"m":1.37e11,"r":2.78},{"m":6.78e10,"r":2.72},{"m":1.77e11,"r":2.35},{"m":1.51e11,"r":1.98},{"m":1.63e11,"r":1.9},{"m":6.17e10,"r":1.29},{"m":7.43e10,"r":1.21},{"m":9.93e10,"r":1.21},{"m":9.93e10,"r":1.14},{"m":8.24e10,"r":1.0},{"m":6.78e10,"r":0.88},{"m":5.61e10,"r":0.84},{"m":1.47e11,"r":0.85},{"m":5.61e10,"r":0.7},{"m":6.17e10,"r":0.65},{"m":6.28e10,"r":0.56},{"m":5.08e10,"r":0.47},{"m":8.63e10,"r":0.48},{"m":5.83e10,"r":0.4},{"m":5.01e11,"r":7.1},{"m":9.3e10,"r":2.0}],
"eb":[{"c":"o","m":1.76e12,"m1":1.33e12,"m2":2.32e12,"r":2.52,"r1":2.29,"r2":2.77},{"c":"r","m":1.76e12,"m1":1.38e12,"m2":2.25e12,"r":1.42,"r1":1.29,"r2":1.56},{"c":"g","m":1.76e12,"m1":1.3e12,"m2":2.38e12,"r":0.81,"r1":0.71,"r2":0.92},{"c":"b","m":1.76e12,"m1":1.38e12,"m2":2.25e12,"r":0.435,"r1":0.36,"r2":0.53}]
},
"hconcat":[
{"width":194,"height":630,
"resolve":{"axis":{"x":"independent","y":"independent"}},
"layer":[
{"data":{"name":"p1"},"mark":{"type":"point","filled":true,"opacity":1,"size":60},
"encoding":{
"x":{"field":"x","type":"quantitative","scale":{"domain":[-0.355,0.345],"nice":false,"zero":false},"axis":{"orient":"bottom","values":[0],"tickSize":-21,"labelExpr":"'0'","labelPadding":32,"title":null}},
"y":{"field":"r","type":"quantitative","scale":{"type":"log","domain":[0.0562,178],"nice":false},"axis":{"orient":"left","values":[0.06,0.07,0.08,0.09,0.1,0.2,0.3,0.4,0.5,0.6,0.7,0.8,0.9,1,2,3,4,5,6,7,8,9,10,20,30,40,50,60,70,80,90,100],"tickSize":{"condition":{"test":"datum.value==0.1||datum.value==1||datum.value==10||datum.value==100","value":-21},"value":-11},"labelExpr":"datum.value==100?'100':datum.value==10?'10':datum.value==1?'1':datum.value==0.1?'0.1':''","labelPadding":40,"title":"Re,c (kpc)","titleFont":"DejaVu Serif","titleFontSize":38,"titleFontWeight":"normal","titleAngle":270,"titleAlign":"center","titleBaseline":"middle","titleX":-130,"titleY":328}},
"color":{"field":"g","type":"nominal","scale":{"domain":["k","i","m","o","im"],"range":["#000000","#cc0000","#008000","#0000cc","#ff7f00"]},"legend":null},
"shape":{"field":"g","type":"nominal","scale":{"domain":["k","i","m","o","im"],"range":["circle","triangle-up","square","M0,-1L0.951,-0.309L0.588,0.809L-0.588,0.809L-0.951,-0.309Z","diamond"]},"legend":null}}},
{"data":{"name":"p1c"},"mark":{"type":"rule","strokeWidth":2.5},
"encoding":{
"x":{"field":"x1","type":"quantitative","axis":{"orient":"top","values":[0],"tickSize":-21,"labels":false,"title":null}},
"x2":{"field":"x2"},
"y":{"field":"r","type":"quantitative","axis":{"orient":"right","values":[0.06,0.07,0.08,0.09,0.1,0.2,0.3,0.4,0.5,0.6,0.7,0.8,0.9,1,2,3,4,5,6,7,8,9,10,20,30,40,50,60,70,80,90,100],"tickSize":{"condition":{"test":"datum.value==0.1||datum.value==1||datum.value==10||datum.value==100","value":-21},"value":-11},"labels":false,"title":null}},
"color":{"field":"g","type":"nominal","scale":{"domain":["k","i","m","o","im"],"range":["#000000","#cc0000","#008000","#0000cc","#ff7f00"]},"legend":null}}},
{"data":{"name":"p1c"},"mark":{"type":"rule","strokeWidth":2.5},
"encoding":{
"x":{"field":"x","type":"quantitative","axis":null},
"y":{"field":"r1","type":"quantitative","axis":null},"y2":{"field":"r2"},
"color":{"field":"g","type":"nominal","scale":{"domain":["k","i","m","o","im"],"range":["#000000","#cc0000","#008000","#0000cc","#ff7f00"]},"legend":null}}},
{"data":{"values":[{"x":0.005,"r":83,"t":"CGS"}]},"mark":{"type":"text","font":"Liberation Serif","fontSize":41,"color":"#333333","align":"center","baseline":"middle"},
"encoding":{"x":{"field":"x","type":"quantitative","axis":null},"y":{"field":"r","type":"quantitative","axis":null},"text":{"field":"t"}}}
]},
{"width":656,"height":630,
"resolve":{"axis":{"x":"independent","y":"independent"}},
"layer":[
{"data":{"name":"gz"},"mark":{"type":"point","shape":"circle","size":50,"filled":false,"color":"#a0a0a0","strokeWidth":1.2,"opacity":1},
"encoding":{
"x":{"field":"z","type":"quantitative","scale":{"domain":[0,3],"nice":false,"zero":false},"axis":{"orient":"bottom","values":[0.25,0.5,0.75,1,1.25,1.5,1.75,2,2.25,2.5,2.75],"tickSize":{"condition":{"test":"datum.value*2==round(datum.value*2)","value":-21},"value":-11},"labelExpr":"datum.value*2==round(datum.value*2)?format(datum.value,'~g'):''","labelPadding":32,"title":"z","titleFont":"DejaVu Serif","titleFontWeight":"bold","titleFontSize":40,"titlePadding":8}},
"y":{"field":"r","type":"quantitative","scale":{"type":"log","domain":[0.0562,178],"nice":false},"axis":{"orient":"left","values":[0.06,0.07,0.08,0.09,0.1,0.2,0.3,0.4,0.5,0.6,0.7,0.8,0.9,1,2,3,4,5,6,7,8,9,10,20,30,40,50,60,70,80,90,100],"tickSize":{"condition":{"test":"datum.value==0.1||datum.value==1||datum.value==10||datum.value==100","value":-21},"value":-11},"labels":false,"title":null}}}},
{"data":{"name":"dl"},"mark":{"type":"line","color":"black","strokeWidth":3,"strokeDash":[13,8]},
"encoding":{
"x":{"field":"z","type":"quantitative","axis":{"orient":"top","values":[0.25,0.5,0.75,1,1.25,1.5,1.75,2,2.25,2.5,2.75],"tickSize":{"condition":{"test":"datum.value*2==round(datum.value*2)","value":-21},"value":-11},"labels":false,"title":null}},
"y":{"field":"r","type":"quantitative","axis":{"orient":"right","values":[0.06,0.07,0.08,0.09,0.1,0.2,0.3,0.4,0.5,0.6,0.7,0.8,0.9,1,2,3,4,5,6,7,8,9,10,20,30,40,50,60,70,80,90,100],"tickSize":{"condition":{"test":"datum.value==0.1||datum.value==1||datum.value==10||datum.value==100","value":-21},"value":-11},"labels":false,"title":null}},
"detail":{"field":"s"}}},
{"data":{"name":"md"},"mark":{"type":"line","color":"black","strokeWidth":2.5},
"encoding":{"x":{"field":"z","type":"quantitative","axis":null},"y":{"field":"r","type":"quantitative","axis":null}}},
{"data":{"name":"md"},"mark":{"type":"point","shape":"M0,-1L0.235,-0.324L0.951,-0.309L0.38,0.124L0.588,0.809L0,0.4L-0.588,0.809L-0.38,0.124L-0.951,-0.309L-0.235,-0.324Z","size":230,"filled":true,"fill":"white","stroke":"black","strokeWidth":2.4,"opacity":1},
"encoding":{"x":{"field":"z","type":"quantitative","axis":null},"y":{"field":"r","type":"quantitative","axis":null}}},
{"data":{"values":[{"z":2.65,"r":0.131,"t":"(a)"}]},"mark":{"type":"text","font":"Liberation Serif","fontSize":38,"color":"#222222","align":"center","baseline":"middle"},
"encoding":{"x":{"field":"z","type":"quantitative","axis":null},"y":{"field":"r","type":"quantitative","axis":null},"text":{"field":"t"}}},
{"data":{"values":[{"g":"1 Comp"}]},"transform":[{"filter":"false"}],"mark":{"type":"point","filled":true,"opacity":1},
"encoding":{
"color":{"field":"g","type":"nominal","scale":{"domain":["3 Comp/inner","3 Comp/middle","3 Comp/outer","1 Comp","inner+middle"],"range":["#cc0000","#008000","#0000cc","#000000","#ff7f00"]},"legend":{"orient":"none","legendX":45,"legendY":34,"title":null,"columns":2,"padding":0,"labelFont":"DejaVu Sans","labelFontWeight":"bold","labelFontSize":29,"labelColor":"black","labelLimit":1000,"symbolSize":110,"labelOffset":11,"rowPadding":24,"columnPadding":11}},
"shape":{"field":"g","type":"nominal","scale":{"domain":["3 Comp/inner","3 Comp/middle","3 Comp/outer","1 Comp","inner+middle"],"range":["triangle-up","square","M0,-1L0.951,-0.309L0.588,0.809L-0.588,0.809L-0.951,-0.309Z","circle","diamond"]},"legend":{"orient":"none","legendX":45,"legendY":34,"title":null,"columns":2,"padding":0,"labelFont":"DejaVu Sans","labelFontWeight":"bold","labelFontSize":29,"labelColor":"black","labelLimit":1000,"symbolSize":110,"labelOffset":11,"rowPadding":24,"columnPadding":11}}}}
]},
{"width":772,"height":630,
"resolve":{"axis":{"x":"independent","y":"independent"},"scale":{"color":"independent","shape":"independent","fill":"independent","stroke":"independent"}},
"layer":[
{"data":{"values":[{"m":6.28e8,"r":0.103,"l":"SDSS ETG"},{"m":3.58e12,"r":79.1,"l":"SDSS ETG"}]},"mark":{"type":"line","color":"black","strokeWidth":2.5,"clip":true},
"encoding":{"x":{"field":"m","type":"quantitative","axis":null},"y":{"field":"r","type":"quantitative","axis":null},
"strokeDash":{"field":"l","type":"nominal","scale":{"domain":["SDSS ETG"],"range":[[37,13]]},"legend":{"orient":"none","legendX":349,"legendY":523,"title":null,"padding":0,"labelFont":"DejaVu Sans","labelFontWeight":"bold","labelFontSize":28.5,"labelColor":"black","labelLimit":1000,"symbolType":"stroke","symbolSize":8100,"symbolStrokeWidth":3,"symbolStrokeColor":"black","labelOffset":12}}}},
{"data":{"name":"st"},"mark":{"type":"point","shape":"M0,-1L0.235,-0.324L0.951,-0.309L0.38,0.124L0.588,0.809L0,0.4L-0.588,0.809L-0.38,0.124L-0.951,-0.309L-0.235,-0.324Z","size":115,"filled":true,"fill":"#d6d6d6","stroke":"#c6c6c6","strokeWidth":0.8,"opacity":1},
"encoding":{
"x":{"field":"m","type":"quantitative","scale":{"type":"log","domain":[6.28e8,3.58e12],"nice":false},"axis":{"orient":"bottom","values":[7e8,8e8,9e8,1e9,2e9,3e9,4e9,5e9,6e9,7e9,8e9,9e9,1e10,2e10,3e10,4e10,5e10,6e10,7e10,8e10,9e10,1e11,2e11,3e11,4e11,5e11,6e11,7e11,8e11,9e11,1e12,2e12,3e12],"tickSize":{"condition":{"test":"datum.value==1e9||datum.value==1e10||datum.value==1e11||datum.value==1e12","value":-21},"value":-11},"labelExpr":"datum.value==1e9?'10⁹':datum.value==1e10?'10¹⁰':datum.value==1e11?'10¹¹':datum.value==1e12?'10¹²':''","labelPadding":32,"title":"M∗ (M⊙)","titleFont":"Liberation Serif","titleFontStyle":"italic","titleFontWeight":"normal","titleFontSize":34,"titlePadding":4}},
"y":{"field":"r","type":"quantitative","scale":{"type":"log","domain":[0.0562,178],"nice":false},"axis":{"orient":"left","values":[0.06,0.07,0.08,0.09,0.1,0.2,0.3,0.4,0.5,0.6,0.7,0.8,0.9,1,2,3,4,5,6,7,8,9,10,20,30,40,50,60,70,80,90,100],"tickSize":{"condition":{"test":"datum.value==0.1||datum.value==1||datum.value==10||datum.value==100","value":-21},"value":-11},"labels":false,"title":null}}}},
{"data":{"name":"tp"},"mark":{"type":"point","shape":"M0,0L0,-1M0,0L-0.866,0.5M0,0L0.866,0.5","size":130,"filled":false,"color":"#858585","strokeWidth":1.5,"opacity":1},
"encoding":{"x":{"field":"m","type":"quantitative","axis":null},"y":{"field":"r","type":"quantitative","axis":null}}},
{"data":{"name":"cp"},"mark":{"type":"point","filled":true,"opacity":1,"size":105},
"encoding":{
"x":{"field":"m","type":"quantitative","axis":{"orient":"top","values":[7e8,8e8,9e8,1e9,2e9,3e9,4e9,5e9,6e9,7e9,8e9,9e9,1e10,2e10,3e10,4e10,5e10,6e10,7e10,8e10,9e10,1e11,2e11,3e11,4e11,5e11,6e11,7e11,8e11,9e11,1e12,2e12,3e12],"tickSize":{"condition":{"test":"datum.value==1e9||datum.value==1e10||datum.value==1e11||datum.value==1e12","value":-21},"value":-11},"labels":false,"title":null}},
"y":{"field":"r","type":"quantitative","axis":{"orient":"right","values":[0.06,0.07,0.08,0.09,0.1,0.2,0.3,0.4,0.5,0.6,0.7,0.8,0.9,1,2,3,4,5,6,7,8,9,10,20,30,40,50,60,70,80,90,100],"tickSize":{"condition":{"test":"datum.value==0.1||datum.value==1||datum.value==10||datum.value==100","value":-21},"value":-11},"labels":false,"title":null}},
"color":{"field":"c","type":"nominal","scale":{"domain":["i","m","o","im"],"range":["#cc0000","#008000","#0000cc","#ff7f00"]},"legend":null},
"shape":{"field":"c","type":"nominal","scale":{"domain":["i","m","o","im"],"range":["triangle-up","square","M0,-1L0.951,-0.309L0.588,0.809L-0.588,0.809L-0.951,-0.309Z","diamond"]},"legend":null}}},
{"data":{"name":"cy"},"mark":{"type":"point","shape":"circle","size":150,"filled":false,"color":"#10e0e8","strokeWidth":1.6,"opacity":1},
"encoding":{"x":{"field":"m","type":"quantitative","axis":null},"y":{"field":"r","type":"quantitative","axis":null}}},
{"data":{"values":[{"m":1.0e11,"r":2.35}]},"mark":{"type":"point","shape":"diamond","size":480,"filled":true,"fill":"#ffaa6a","stroke":"#333333","strokeWidth":1.5,"opacity":1},
"encoding":{"x":{"field":"m","type":"quantitative","axis":null},"y":{"field":"r","type":"quantitative","axis":null}}},
{"data":{"values":[{"m":1.1e11,"r":2.67}]},"mark":{"type":"point","shape":"M0,-1L0.951,-0.309L0.588,0.809L-0.588,0.809L-0.951,-0.309Z","size":440,"filled":true,"fill":"#ffb6c1","stroke":"#333333","strokeWidth":1.5,"opacity":1},
"encoding":{"x":{"field":"m","type":"quantitative","axis":null},"y":{"field":"r","type":"quantitative","axis":null}}},
{"data":{"values":[{"m":8.79e10,"r":1.82}]},"mark":{"type":"point","shape":"M0,-1L0.866,-0.5L0.866,0.5L0,1L-0.866,0.5L-0.866,-0.5Z","size":500,"filled":true,"fill":"#f0f000","stroke":"#222222","strokeWidth":1.5,"opacity":1},
"encoding":{"x":{"field":"m","type":"quantitative","axis":null},"y":{"field":"r","type":"quantitative","axis":null}}},
{"data":{"name":"eb"},"mark":{"type":"errorbar","ticks":{"size":10,"thickness":2},"thickness":2},
"encoding":{"x":{"field":"m1","type":"quantitative","axis":null},"x2":{"field":"m2"},"y":{"field":"r","type":"quantitative","axis":null},
"color":{"field":"c","type":"nominal","scale":{"domain":["o","r","g","b"],"range":["#ff8c2a","#d43b3b","#2e9a2e","#3030dd"]},"legend":null}}},
{"data":{"name":"eb"},"mark":{"type":"errorbar","ticks":{"size":10,"thickness":2},"thickness":2},
"encoding":{"y":{"field":"r1","type":"quantitative","axis":null},"y2":{"field":"r2"},"x":{"field":"m","type":"quantitative","axis":null},
"color":{"field":"c","type":"nominal","scale":{"domain":["o","r","g","b"],"range":["#ff8c2a","#d43b3b","#2e9a2e","#3030dd"]},"legend":null}}},
{"data":{"values":[{"m":1.74e12,"r":0.131,"t":"(b)"}]},"mark":{"type":"text","font":"Liberation Serif","fontSize":38,"color":"#222222","align":"center","baseline":"middle"},
"encoding":{"x":{"field":"m","type":"quantitative","axis":null},"y":{"field":"r","type":"quantitative","axis":null},"text":{"field":"t"}}},
{"data":{"values":[{"g":"x"}]},"transform":[{"filter":"false"}],"mark":{"type":"point","filled":false,"opacity":1,"strokeWidth":1.6},
"encoding":{
"shape":{"field":"g","type":"nominal","scale":{"domain":["Median 1.0<z<1.5 Patel et al. 2013","Median 1.5<z<2.0 Patel et al. 2013","Median Inner+Middle","Szomoru et al. 2012"],"range":["M0,-1L0.951,-0.309L0.588,0.809L-0.588,0.809L-0.951,-0.309Z","M0,-1L0.866,-0.5L0.866,0.5L0,1L-0.866,0.5L-0.866,-0.5Z","diamond","circle"]},"legend":{"orient":"none","legendX":29,"legendY":39,"title":null,"padding":0,"labelFont":"DejaVu Sans","labelFontWeight":"bold","labelFontSize":27.5,"labelColor":"black","labelLimit":1000,"symbolSize":420,"symbolStrokeWidth":1.6,"labelOffset":10,"rowPadding":7}},
"fill":{"field":"g","type":"nominal","scale":{"domain":["Median 1.0<z<1.5 Patel et al. 2013","Median 1.5<z<2.0 Patel et al. 2013","Median Inner+Middle","Szomoru et al. 2012"],"range":["#ffb6c1","#f0f000","#ff8a2a","transparent"]},"legend":{"orient":"none","legendX":29,"legendY":39,"title":null,"padding":0,"labelFont":"DejaVu Sans","labelFontWeight":"bold","labelFontSize":27.5,"labelColor":"black","labelLimit":1000,"symbolSize":420,"symbolStrokeWidth":1.6,"labelOffset":10,"rowPadding":7}},
"stroke":{"field":"g","type":"nominal","scale":{"domain":["Median 1.0<z<1.5 Patel et al. 2013","Median 1.5<z<2.0 Patel et al. 2013","Median Inner+Middle","Szomoru et al. 2012"],"range":["#333333","#222222","#333333","#10e0e8"]},"legend":{"orient":"none","legendX":29,"legendY":39,"title":null,"padding":0,"labelFont":"DejaVu Sans","labelFontWeight":"bold","labelFontSize":27.5,"labelColor":"black","labelLimit":1000,"symbolSize":420,"symbolStrokeWidth":1.6,"labelOffset":10,"rowPadding":7}}}},
{"data":{"values":[{"g":"x"}]},"transform":[{"filter":"false"}],"mark":{"type":"point","filled":false,"opacity":1,"strokeWidth":1.5},
"encoding":{
"shape":{"field":"g","type":"nominal","scale":{"domain":["0.2<z<1.5","1.5≦z<2.7"],"range":["M0,-1L0.235,-0.324L0.951,-0.309L0.38,0.124L0.588,0.809L0,0.4L-0.588,0.809L-0.38,0.124L-0.951,-0.309L-0.235,-0.324Z","M0,0L0,-1M0,0L-0.866,0.5M0,0L0.866,0.5"]},"legend":{"orient":"none","legendX":29,"legendY":199,"title":null,"padding":0,"labelFont":"DejaVu Sans","labelFontWeight":"bold","labelFontSize":27.5,"labelColor":"black","labelLimit":1000,"symbolSize":320,"symbolStrokeWidth":1.5,"labelOffset":10,"rowPadding":7}},
"fill":{"field":"g","type":"nominal","scale":{"domain":["0.2<z<1.5","1.5≦z<2.7"],"range":["white","transparent"]},"legend":{"orient":"none","legendX":29,"legendY":199,"title":null,"padding":0,"labelFont":"DejaVu Sans","labelFontWeight":"bold","labelFontSize":27.5,"labelColor":"black","labelLimit":1000,"symbolSize":320,"symbolStrokeWidth":1.5,"labelOffset":10,"rowPadding":7}},
"stroke":{"field":"g","type":"nominal","scale":{"domain":["0.2<z<1.5","1.5≦z<2.7"],"range":["#b8b8b8","#808080"]},"legend":{"orient":"none","legendX":29,"legendY":199,"title":null,"padding":0,"labelFont":"DejaVu Sans","labelFontWeight":"bold","labelFontSize":27.5,"labelColor":"black","labelLimit":1000,"symbolSize":320,"symbolStrokeWidth":1.5,"labelOffset":10,"rowPadding":7}}}}
]}
]}
